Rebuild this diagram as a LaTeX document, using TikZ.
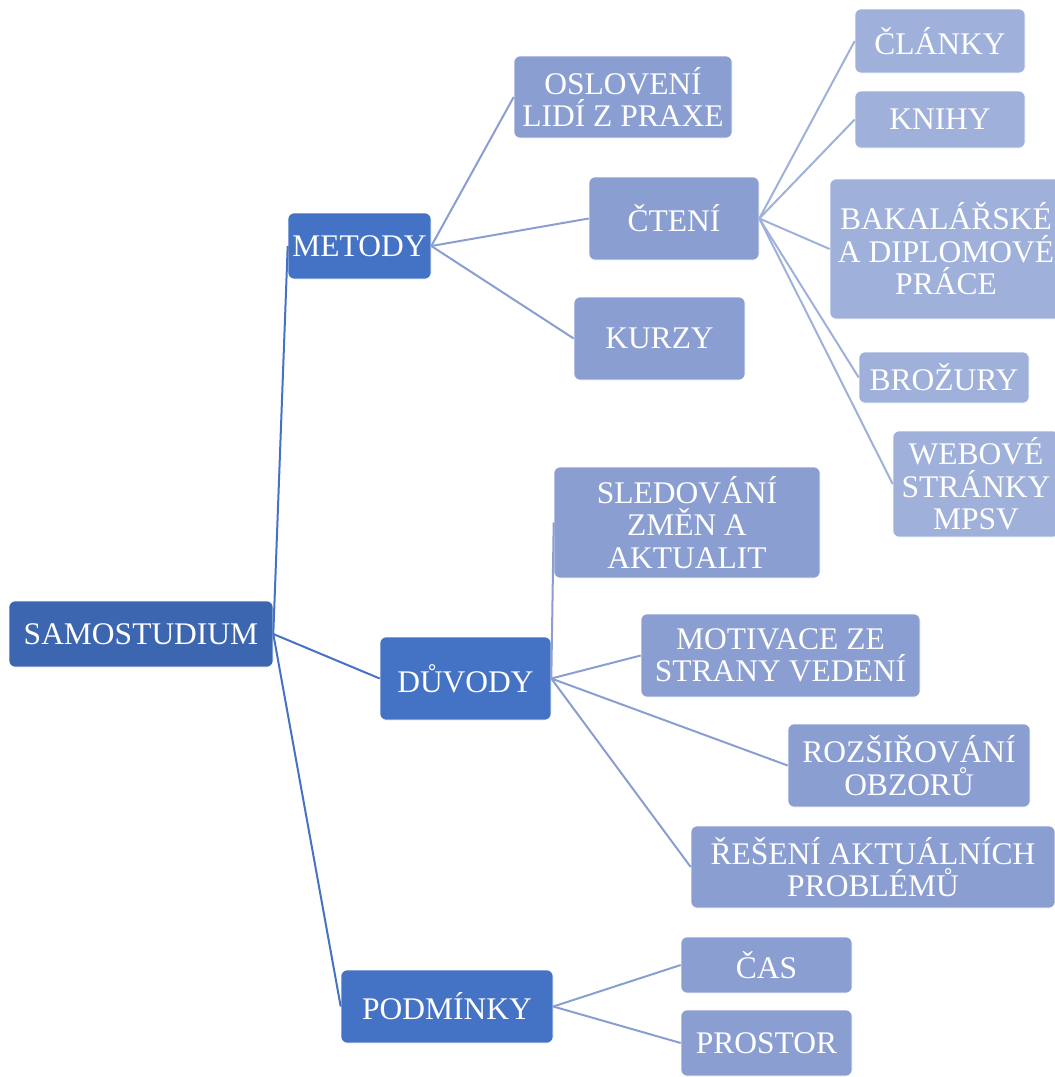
\documentclass[tikz,border=0pt]{standalone}
\usepackage{fontspec}
\setmainfont{Liberation Serif}
\definecolor{cA}{HTML}{3D66B0}
\definecolor{cB}{HTML}{4472C4}
\definecolor{cC}{HTML}{8A9ED2}
\definecolor{cD}{HTML}{9FB0DA}
\begin{document}
\begin{tikzpicture}[x=1pt,y=-1pt,
  box/.style={rounded corners=6pt, text=white, align=center, inner sep=0pt,
    font=\fontsize{31.5}{32.5}\selectfont, draw=white, line width=0.6pt},
  lA/.style={box, fill=cA},
  lB/.style={box, fill=cB},
  lC/.style={box, fill=cC},
  lD/.style={box, fill=cD},
  eB/.style={draw=cB, line width=2pt},
  eC/.style={draw=cC, line width=2pt},
  eD/.style={draw=cD, line width=2pt}]
\useasboundingbox (0,0) rectangle (1055,1077);
% level 1
\node[lA, minimum width=264, minimum height=66] (sam) at (141,634) {SAMOSTUDIUM};
% level 2
\node[lB, minimum width=143, minimum height=66] (met) at (359.5,246) {METODY};
\node[lB, minimum width=171, minimum height=83] (duv) at (465.5,678.5) {DŮVODY};
\node[lB, minimum width=212, minimum height=73] (pod) at (447,1006.5) {PODMÍNKY};
% level 3 under METODY
\node[lC, minimum width=218, minimum height=82] (osl) at (623,97) {OSLOVENÍ\\LIDÍ Z PRAXE};
\node[lC, minimum width=170, minimum height=83] (cte) at (674,218.5) {ČTENÍ};
\node[lC, minimum width=171, minimum height=83] (kur) at (659.5,338.5) {KURZY};
% level 4 under ČTENÍ
\node[lD, minimum width=170, minimum height=64] (cla) at (940,41) {ČLÁNKY};
\node[lD, minimum width=170, minimum height=57] (kni) at (940,119.5) {KNIHY};
\node[lD, minimum width=232, minimum height=140] (bak) at (946,249) {BAKALÁŘSKÉ\\A DIPLOMOVÉ\\PRÁCE};
\node[lD, minimum width=170, minimum height=51] (bro) at (944,377.5) {BROŽURY};
\node[lD, minimum width=166, minimum height=106] (web) at (976,484) {WEBOVÉ\\STRÁNKY\\MPSV};
% level 3 under DŮVODY
\node[lC, minimum width=266, minimum height=111] (sle) at (687,522.5) {SLEDOVÁNÍ\\ZMĚN A\\AKTUALIT};
\node[lC, minimum width=279, minimum height=83] (mot) at (780.5,655.5) {MOTIVACE ZE\\STRANY VEDENÍ};
\node[lC, minimum width=242, minimum height=83] (roz) at (909,765.5) {ROZŠIŘOVÁNÍ\\OBZORŮ};
\node[lC, minimum width=364, minimum height=82] (res) at (873,867) {ŘEŠENÍ AKTUÁLNÍCH\\PROBLÉMŮ};
% level 3 under PODMÍNKY
\node[lC, minimum width=171, minimum height=56] (cas) at (766.5,965) {ČAS};
\node[lC, minimum width=171, minimum height=66] (pro) at (766.5,1043) {PROSTOR};
% connectors
\draw[eB] (sam.east) -- (met.west);
\draw[eB] (sam.east) -- (duv.west);
\draw[eB] (sam.east) -- (pod.west);
\draw[eC] (met.east) -- (osl.west);
\draw[eC] (met.east) -- (cte.west);
\draw[eC] (met.east) -- (kur.west);
\draw[eD] (cte.east) -- (cla.west);
\draw[eD] (cte.east) -- (kni.west);
\draw[eD] (cte.east) -- (bak.west);
\draw[eD] (cte.east) -- (bro.west);
\draw[eD] (cte.east) -- (web.west);
\draw[eC] (duv.east) -- (sle.west);
\draw[eC] (duv.east) -- (mot.west);
\draw[eC] (duv.east) -- (roz.west);
\draw[eC] (duv.east) -- (res.west);
\draw[eC] (pod.east) -- (cas.west);
\draw[eC] (pod.east) -- (pro.west);
\end{tikzpicture}
\end{document}
